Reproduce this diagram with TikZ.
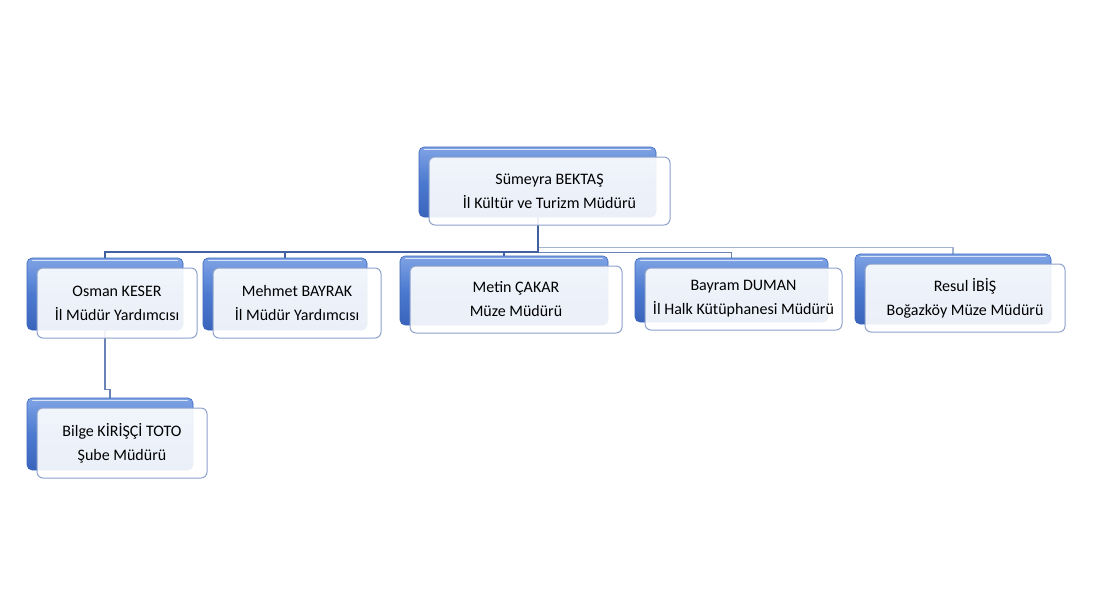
\documentclass[tikz,border=0pt]{standalone}
\usepackage{fontspec}
\setmainfont{Carlito}
\usetikzlibrary{backgrounds}
\definecolor{backtop}{HTML}{7FA3E4}
\definecolor{backmid}{HTML}{4C7AD0}
\definecolor{backbot}{HTML}{3A64BC}
\definecolor{frontline}{HTML}{8EA2CC}
\definecolor{conndark}{HTML}{40609F}
\definecolor{connmid}{HTML}{6A82B5}
\definecolor{connlight}{HTML}{A3B3D3}
\tikzset{
  backbox/.style={rounded corners=5pt, top color=backtop, bottom color=backbot, middle color=backmid, draw=backbot, line width=0.6pt, inner sep=0pt},
  frontbox/.style={rounded corners=6pt, draw=frontline, line width=1pt, fill=white, fill opacity=0.9, text opacity=1, inner sep=0pt, align=center, font=\fontsize{16}{24}\selectfont, text=black},
  conn/.style={line width=2pt, draw=conndark},
  connm/.style={line width=1.5pt, draw=connmid},
  connl/.style={line width=1.5pt, draw=connlight},
}
\newcommand\orgunit[6]{% name, x1, y1, x2, y2 (front box), text
  \node[backbox, minimum width={(#4-#2-4)*1pt}, minimum height={(#5-#3+2)*1pt}] (#1-b) at ({(#2+#4)/2-12}, {(#3+#5)/2-9}) {};
  \draw[white!70!backtop, line width=1.5pt, line cap=round] ([xshift=6pt, yshift=-3pt]#1-b.north west) -- ([xshift=-6pt, yshift=-3pt]#1-b.north east);
  \node[frontbox, minimum width={(#4-#2)*1pt}, minimum height={(#5-#3)*1pt}] (#1) at ({(#2+#4)/2}, {(#3+#5)/2}) {#6};
}
\begin{document}
\begin{tikzpicture}[x=1pt, y=-1pt]
\useasboundingbox (0,0) rectangle (1094,606);
\orgunit{root}{429}{157}{670}{225}{Sümeyra BEKTAŞ\\İl Kültür ve Turizm Müdürü}
\orgunit{osman}{37}{268}{197}{338}{Osman KESER\\İl Müdür Yardımcısı}
\orgunit{mehmet}{213}{268}{381}{338}{Mehmet BAYRAK\\İl Müdür Yardımcısı}
\orgunit{metin}{410}{266}{622}{333}{Metin ÇAKAR\\Müze Müdürü}
\orgunit{bayram}{645}{268}{842}{330}{Bayram DUMAN\\İl Halk Kütüphanesi Müdürü}
\orgunit{resul}{865}{264}{1065}{332}{Resul İBİŞ\\Boğazköy Müze Müdürü}
\orgunit{bilge}{37}{408}{207}{478}{Bilge KİRİŞÇİ TOTO\\Şube Müdürü}
\begin{pgfonlayer}{background}
\draw[connl] (root-b.south) -- ++(0,30) -| (resul-b.north);
\draw[connm] (root-b.south) -- ++(0,35) -| (bayram-b.north);
\draw[conn] (root-b.south) -- ++(0,35) -| (osman-b.north);
\draw[conn] (root-b.south) -- ++(0,35) -| (mehmet-b.north);
\draw[conn] (root-b.south) -- ++(0,35) -| (metin-b.north);
\draw[connm] (osman-b.south) -- ++(0,59) -| (bilge-b.north);
\end{pgfonlayer}
\end{tikzpicture}
\end{document}
